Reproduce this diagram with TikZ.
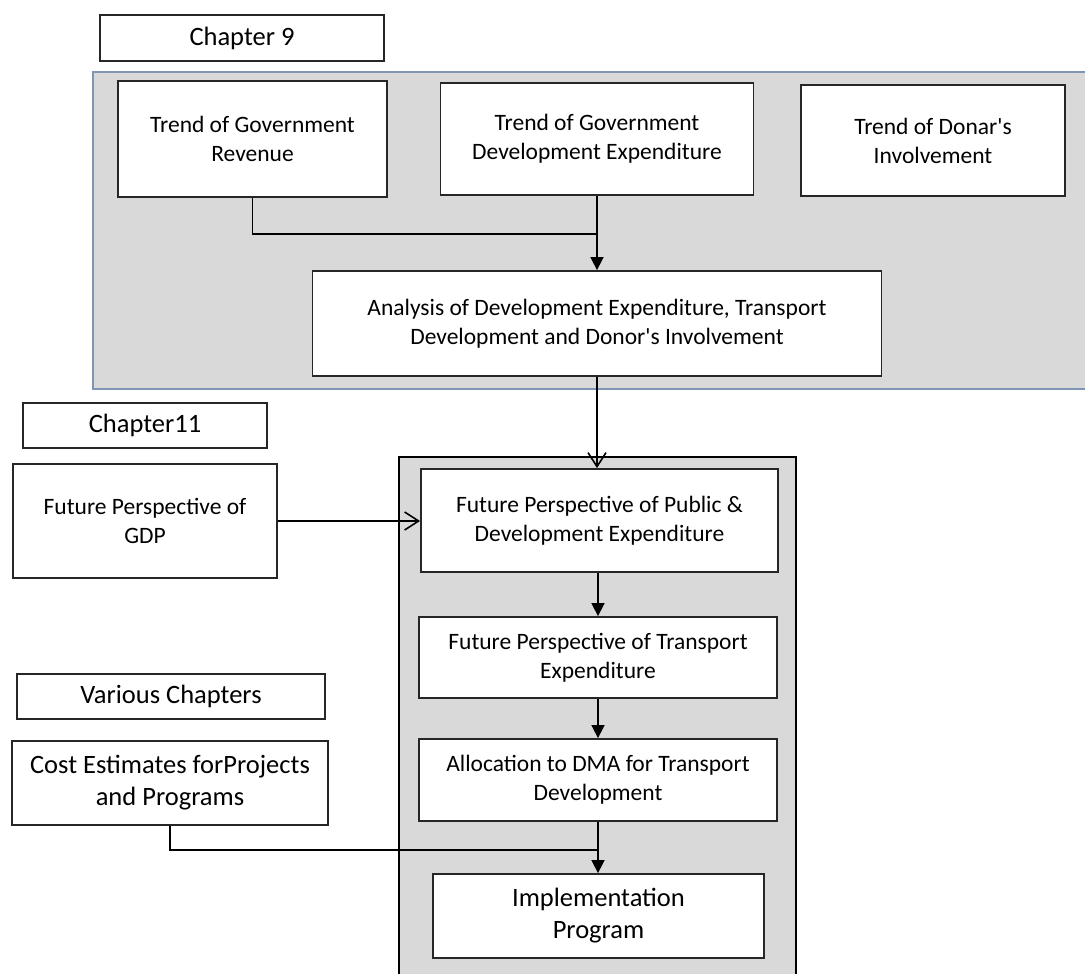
\documentclass[tikz,border=0pt]{standalone}
\usepackage{fontspec}
% keep plain straight apostrophes (no TeX quote mapping)
\setmainfont{Carlito}[Ligatures=TeXOff]
\usetikzlibrary{arrows.meta}
\definecolor{panelgray}{HTML}{D9D9D9}
\definecolor{panelblue}{HTML}{7F95B3}
\definecolor{boxline}{HTML}{262626}
\begin{document}
\begin{tikzpicture}[x=1pt,y=-1pt,
  box/.style={draw=boxline,line width=1.8pt,fill=white,align=center,
    inner sep=0pt,font=\fontsize{23.5}{29}\selectfont},
  bigbox/.style={box,font=\fontsize{26.5}{32}\selectfont},
  link/.style={line width=1.6pt,draw=black},
  solidtip/.style={link,-{Triangle[length=13pt,width=13pt]}},
  opentip/.style={link,-{Straight Barb[length=14pt,width=18pt,line width=1.6pt]}}]
\clip (0,0) rectangle (1085,974);
\fill[white] (0,0) rectangle (1085,974);

% shaded group panels
\draw[fill=panelgray,draw=panelblue,line width=1.5pt] (93,72) rectangle (1100,389);
\draw[fill=panelgray,draw=black,line width=1.8pt] (399,457) rectangle (796,990);

% chapter labels
\node[bigbox,minimum width=284pt,minimum height=46pt] (ch9) at (242,38) {Chapter 9};
\node[bigbox,minimum width=244pt,minimum height=45pt] (ch11) at (145,425.5) {Chapter11};
\node[bigbox,minimum width=308pt,minimum height=45pt] (various) at (171,696.5) {Various Chapters};

% chapter 9 group
\node[box,minimum width=269pt,minimum height=116pt] (rev) at (252.5,139) {Trend of Government\\Revenue};
\node[box,minimum width=313pt,minimum height=112pt] (devexp) at (597,139) {Trend of Government\\Development Expenditure};
\node[box,minimum width=264pt,minimum height=111pt] (donor) at (933,140.5) {Trend of Donar's\\Involvement};
\node[box,minimum width=569pt,minimum height=105pt] (analysis) at (597,323.5) {Analysis of Development Expenditure, Transport\\Development and  Donor's Involvement};

% left-hand inputs
\node[box,minimum width=264pt,minimum height=114pt] (gdp) at (145,521) {Future Perspective of\\GDP};
\node[bigbox,minimum width=316pt,minimum height=84pt] (cost) at (170,783) {Cost Estimates forProjects\\and Programs};

% chapter 11 group
\node[box,minimum width=357pt,minimum height=103pt] (fpub) at (599.5,520.5) {Future Perspective of Public \&\\Development Expenditure};
\node[box,minimum width=358pt,minimum height=81pt] (ftrans) at (598,657.5) {Future Perspective of  Transport\\Expenditure};
\node[box,minimum width=358pt,minimum height=82pt] (alloc) at (598,780) {Allocation to DMA for Transport\\Development};
\node[bigbox,minimum width=331pt,minimum height=84pt] (impl) at (598.5,916) {Implementation\\Program};

% junction points
\coordinate (j1) at (597,234);
\coordinate (j2) at (598,850);

% connectors
\draw[link] (rev.south) |- (j1);
\draw[solidtip] (devexp.south) -- (analysis.north);
\draw[opentip] (analysis.south) -- (analysis.south |- fpub.north);
\draw[opentip] (gdp.east) -- (gdp.east -| fpub.west);
\draw[solidtip] (fpub.south -| ftrans.north) -- (ftrans.north);
\draw[solidtip] (ftrans.south) -- (ftrans.south |- alloc.north);
\draw[solidtip] (alloc.south) -- (alloc.south |- impl.north);
\draw[link] (cost.south) |- (j2);
\end{tikzpicture}
\end{document}
